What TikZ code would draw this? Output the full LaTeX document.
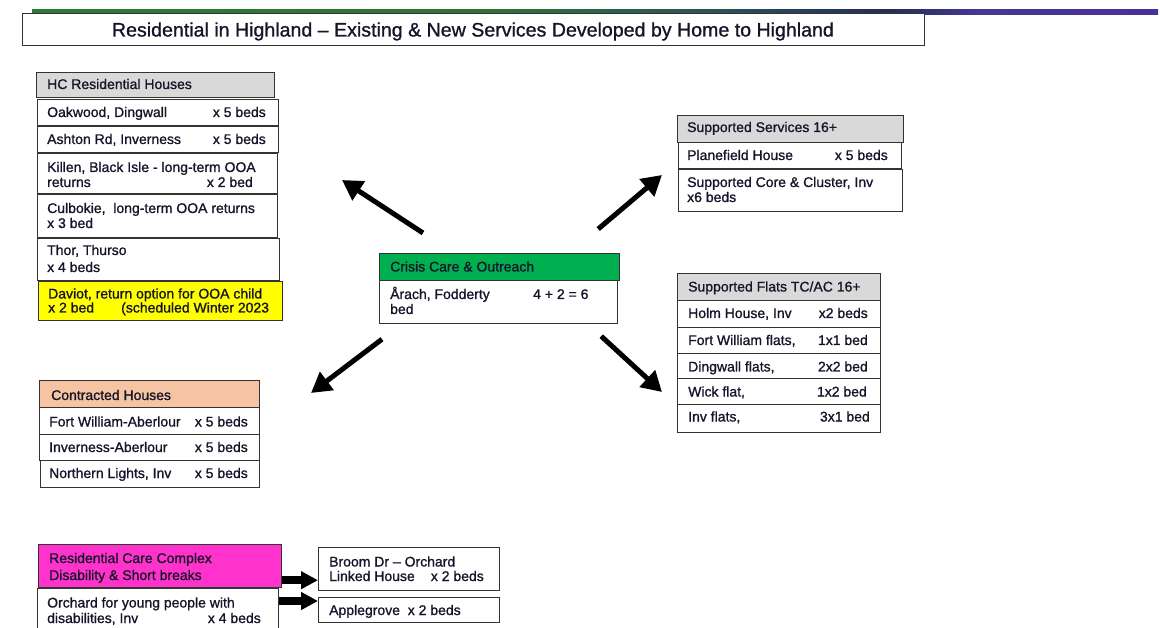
\documentclass[tikz,border=0pt]{standalone}
\usepackage{fontspec}
\setmainfont{Liberation Sans}
\newfontfamily\heavyfont[FakeBold=1,Ligatures=TeX]{Liberation Sans}
\usepackage{graphicx}
\usetikzlibrary{arrows.meta,calc}
\definecolor{boxline}{HTML}{333333}
\definecolor{txtc}{HTML}{14142A}
\definecolor{hdrgray}{HTML}{D9D9D9}
\definecolor{hdrgreen}{HTML}{00B050}
\definecolor{hdrpeach}{HTML}{F6C4A2}
\definecolor{hdrpink}{HTML}{FF33CC}
\definecolor{hdryellow}{HTML}{FFFF00}
\definecolor{ga}{HTML}{2D7A34}
\definecolor{gb}{HTML}{2E7436}
\definecolor{gc}{HTML}{2A5558}
\definecolor{gd}{HTML}{262C5A}
\definecolor{ge}{HTML}{453892}
\definecolor{gf}{HTML}{4A2F96}
\pgfdeclarehorizontalshading{topbar}{100bp}{color(0bp)=(ga); color(25bp)=(ga); color(45bp)=(gb); color(55bp)=(gc); color(63bp)=(gd); color(67bp)=(ge); color(75bp)=(gf); color(100bp)=(gf)}
\newcommand{\bx}{\heavyfont\fontsize{14}{16}\selectfont}
\tikzset{
  cell/.style={draw=boxline, line width=1.2pt, fill=white, rectangle, inner sep=0pt, anchor=north west},
  lt/.style={anchor=base west, inner sep=0pt, font=\bx, text=txtc},
  rt/.style={anchor=base east, inner sep=0pt, font=\bx, text=txtc},
  bigarrow/.style={line width=5pt, -{Triangle[length=20pt,width=22pt]}},
  sidearrow/.style={line width=8pt, -{Triangle[length=17pt,width=17pt]}},
}
\begin{document}
\begin{tikzpicture}[x=1pt,y=-1pt]
\useasboundingbox (0,0) rectangle (1160,628);
\fill[white] (0,0) rectangle (1160,628);
% top bar
\shade[shading=topbar] (32,9.5) rectangle (1158,14.5);
% title
\node[cell, minimum width=902pt, minimum height=32pt] (title) at (22,13) {};
\node[anchor=base, inner sep=0pt, text=txtc] (titletext) at (473,36.5)
  {\resizebox{722pt}{\height}{\heavyfont\fontsize{19.5}{22}\selectfont Residential in Highland – Existing \& New Services Developed by Home to Highland}};

% HC Residential Houses
\node[cell, fill=hdrgray, minimum width=238pt, minimum height=25pt] (hch) at (36,72) {};
\node[lt] (hcht) at (47,89) {HC Residential Houses};
\node[cell, minimum width=241pt, minimum height=26pt] (oak) at (37,99) {};
\node[lt] (oakl) at (47,117) {Oakwood, Dingwall};
\node[rt] (oakr) at (266,117) {x 5 beds};
\node[cell, minimum width=241pt, minimum height=26pt] (ash) at (37,126) {};
\node[lt] (ashl) at (47,144) {Ashton Rd, Inverness};
\node[rt] (ashr) at (266,144) {x 5 beds};
\node[cell, minimum width=240pt, minimum height=40pt] (kil) at (37,153) {};
\node[lt] (kill) at (47,172) {Killen, Black Isle - long-term OOA};
\node[lt] (kil2) at (47,187) {returns};
\node[rt] (kilr) at (253,187) {x 2 bed};
\node[cell, minimum width=240pt, minimum height=43pt] (cul) at (37,194) {};
\node[lt] (cull) at (47,213) {Culbokie,\ \ long-term OOA returns};
\node[lt] (cul2) at (47,228) {x 3 bed};
\node[cell, minimum width=242pt, minimum height=42pt] (tho) at (37,238) {};
\node[lt] (thol) at (47,255) {Thor, Thurso};
\node[lt] (tho2) at (47,272) {x 4 beds};
\node[cell, fill=hdryellow, minimum width=244pt, minimum height=39pt] (dav) at (38,281) {};
\node[lt] (davl) at (48,298.5) {Daviot, return option for OOA child};
\node[lt] (dav2) at (48,312.5) {x 2 bed};
\node[lt] (dav3) at (121,312.5) {(scheduled Winter 2023};

% Supported Services 16+
\node[cell, fill=hdrgray, minimum width=226pt, minimum height=27pt] (ssh) at (677,115) {};
\node[lt] (ssht) at (687,132) {Supported Services 16+};
\node[cell, minimum width=223pt, minimum height=26pt] (pla) at (678,142) {};
\node[lt] (plal) at (687,160) {Planefield House};
\node[rt] (plar) at (888,160) {x 5 beds};
\node[cell, minimum width=224pt, minimum height=42pt] (cor) at (678,169) {};
\node[lt] (corl) at (687,187) {Supported Core \& Cluster, Inv};
\node[lt] (cor2) at (687,202) {x6 beds};

% Supported Flats
\node[cell, fill=hdrgray, minimum width=203pt, minimum height=27pt] (sfh) at (677,273) {};
\node[lt] (sfht) at (688,291.5) {Supported Flats TC/AC 16+};
\node[cell, minimum width=203pt, minimum height=27pt] (hol) at (677,300) {};
\node[lt] (holl) at (688,318) {Holm House, Inv};
\node[rt] (holr) at (868,318) {x2 beds};
\node[cell, minimum width=203pt, minimum height=26pt] (fwf) at (677,327) {};
\node[lt] (fwfl) at (688,345) {Fort William flats,};
\node[rt] (fwfr) at (868,345) {1x1 bed};
\node[cell, minimum width=203pt, minimum height=25pt] (dwf) at (677,353) {};
\node[lt] (dwfl) at (688,371.5) {Dingwall flats,};
\node[rt] (dwfr) at (868,371.5) {2x2 bed};
\node[cell, minimum width=203pt, minimum height=26pt] (wic) at (677,378) {};
\node[lt] (wicl) at (688,396.5) {Wick flat,};
\node[rt] (wicr) at (867,396.5) {1x2 bed};
\node[cell, minimum width=203pt, minimum height=28pt] (ivf) at (677,404) {};
\node[lt] (ivfl) at (688,421.5) {Inv flats,};
\node[rt] (ivfr) at (870,421.5) {3x1 bed};

% Crisis Care
\node[cell, fill=hdrgreen, minimum width=240pt, minimum height=27pt] (cch) at (379,253) {};
\node[lt] (ccht) at (390,271.5) {Crisis Care \& Outreach};
\node[cell, minimum width=238pt, minimum height=43pt] (cca) at (379,280) {};
\node[lt] (ccal) at (390,299) {Årach, Fodderty};
\node[lt] (ccar) at (533,299) {4 + 2 = 6};
\node[lt] (cca2) at (390,314) {bed};

% Contracted Houses
\node[cell, fill=hdrpeach, minimum width=220pt, minimum height=27pt] (coh) at (39,380) {};
\node[lt] (coht) at (51,400) {Contracted Houses};
\node[cell, minimum width=220pt, minimum height=27pt] (cfw) at (39,407) {};
\node[lt] (cfwl) at (49,426.5) {Fort William-Aberlour};
\node[rt] (cfwr) at (248,426.5) {x 5 beds};
\node[cell, minimum width=220pt, minimum height=26pt] (cin) at (39,434) {};
\node[lt] (cinl) at (49,452) {Inverness-Aberlour};
\node[rt] (cinr) at (248,452) {x 5 beds};
\node[cell, minimum width=219pt, minimum height=27pt] (cnl) at (40,460) {};
\node[lt] (cnll) at (49,478) {Northern Lights, Inv};
\node[rt] (cnlr) at (248,478) {x 5 beds};

% Residential Care Complex
\node[cell, fill=hdrpink, minimum width=243pt, minimum height=43pt] (rcc) at (38,544) {};
\node[lt] (rccl) at (49,563) {Residential Care Complex};
\node[lt] (rcc2) at (49,580) {Disability \& Short breaks};
\node[cell, minimum width=241pt, minimum height=50pt] (orc) at (37,588) {};
\node[lt] (orcl) at (47,607.5) {Orchard for young people with};
\node[lt] (orc2) at (47,623) {disabilities, Inv};
\node[rt] (orcr) at (261,623) {x 4 beds};
\node[cell, minimum width=181pt, minimum height=43pt] (bro) at (318,547) {};
\node[lt] (brol) at (329,566.5) {Broom Dr – Orchard};
\node[lt] (bro2) at (329,581) {Linked House};
\node[rt] (bror) at (484,581) {x 2 beds};
\node[cell, minimum width=181pt, minimum height=25pt] (app) at (318,597) {};
\node[lt] (appl) at (329,615) {Applegrove\ \ x 2 beds};

% arrows from crisis care
\coordinate (a1s) at ($(cch.north west)+(44,-20)$);
\coordinate (a1e) at (342,180);
\coordinate (a2s) at ($(cch.north east)+(-22,-24)$);
\coordinate (a2e) at (662,175);
\coordinate (a3s) at ($(cca.south west)+(3,15)$);
\coordinate (a3e) at (311,393);
\coordinate (a4s) at ($(cca.south east)+(-17,12)$);
\coordinate (a4e) at (662,392);
\draw[bigarrow] (a1s) -- (a1e);
\draw[bigarrow] (a2s) -- (a2e);
\draw[bigarrow] (a3s) -- (a3e);
\draw[bigarrow] (a4s) -- (a4e);
% arrows bottom
\draw[sidearrow] ($(rcc.south east)+(0,-8)$) -- ($(bro.south west)+(0,-11)$);
\draw[sidearrow] ($(orc.north east)+(0,13)$) -- ($(app.north west)+(0,4)$);
\end{tikzpicture}
\end{document}
